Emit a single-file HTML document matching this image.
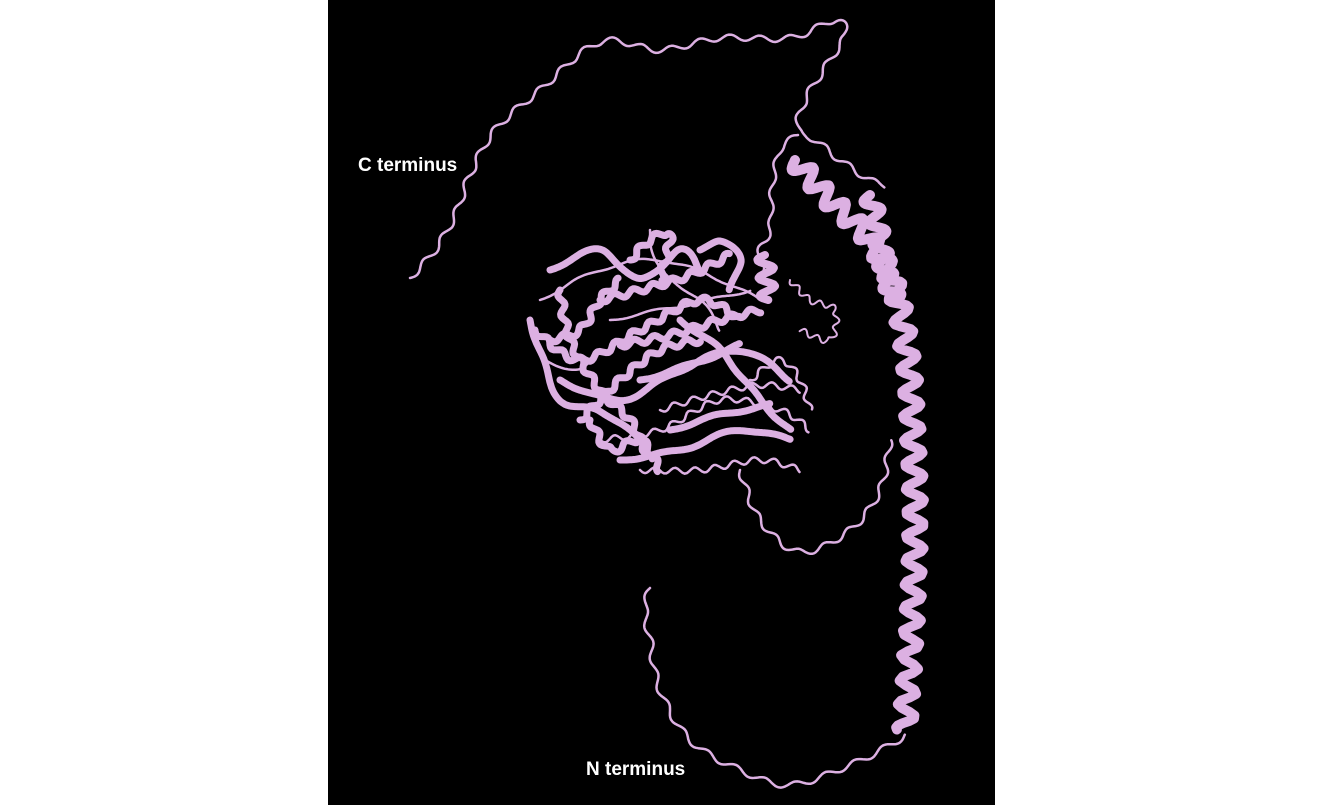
<!DOCTYPE html>
<html><head><meta charset="utf-8"><style>
html,body{margin:0;padding:0;background:#fff;width:1343px;height:805px;overflow:hidden}
#panel{position:absolute;left:328px;top:0;width:667px;height:805px;background:#000}
.lbl{position:absolute;color:#fff;font:bold 19px "Liberation Sans",sans-serif}
svg{position:absolute;left:0;top:0}
</style></head><body>
<div id="panel"></div>
<svg id="s" width="1343" height="805"></svg>
<div class="lbl" style="left:358px;top:155px">C terminus</div>
<div class="lbl" style="left:586px;top:759px">N terminus</div>
<script>
const NS="http://www.w3.org/2000/svg",svg=document.getElementById('s');
const C="#dcb0e2";
function catmull(pts,n){const o=[];for(let i=0;i<pts.length-1;i++){const p0=pts[Math.max(i-1,0)],p1=pts[i],p2=pts[i+1],p3=pts[Math.min(i+2,pts.length-1)];for(let t=0;t<n;t++){const u=t/n,u2=u*u,u3=u2*u;o.push([0.5*(2*p1[0]+(-p0[0]+p2[0])*u+(2*p0[0]-5*p1[0]+4*p2[0]-p3[0])*u2+(-p0[0]+3*p1[0]-3*p2[0]+p3[0])*u3),0.5*(2*p1[1]+(-p0[1]+p2[1])*u+(2*p0[1]-5*p1[1]+4*p2[1]-p3[1])*u2+(-p0[1]+3*p1[1]-3*p2[1]+p3[1])*u3)]);}}o.push(pts[pts.length-1]);return o;}
function wavy(pts,amp,per,w,name){const c=catmull(pts,30);let d="",L=0;for(let i=0;i<c.length;i++){if(i)L+=Math.hypot(c[i][0]-c[i-1][0],c[i][1]-c[i-1][1]);const a=c[Math.max(i-1,0)],b=c[Math.min(i+1,c.length-1)];let dx=b[0]-a[0],dy=b[1]-a[1],l=Math.hypot(dx,dy)||1;const s=amp*Math.sin(L/per*2*Math.PI);d+=(i?"L":"M")+(c[i][0]-dy/l*s).toFixed(1)+","+(c[i][1]+dx/l*s).toFixed(1);}
const p=document.createElementNS(NS,'path');p.setAttribute('d',d);p.setAttribute('fill','none');p.setAttribute('stroke',C);p.setAttribute('stroke-width',w);p.setAttribute('stroke-linejoin','round');p.setAttribute('stroke-linecap','round');


svg.appendChild(p);}
// C-terminal coil
wavy([[410,278],[435,250],[455,215],[470,175],[495,130],[540,90],[600,42],[660,50],[720,38],[790,38],[835,20],[845,35],[830,60],[805,100],[798,130],[815,140],[840,160],[870,180],[885,185]],3,30,2.5,'c-terminal-coil');
wavy([[798,135],[780,150],[772,190],[770,230],[760,250],[765,280]],2.5,30,2.5,'linker-coil');
// helices
wavy([[795,160],[830,200],[870,240],[895,290],[908,360],[913,440],[915,520],[912,620],[905,730]],9,24,10,'long-helix');
wavy([[870,195],[878,230],[885,270],[895,300]],8,22,10,'short-helix');
wavy([[765,255],[768,300]],8,18,8,'small-helix');
// N-terminal coil
wavy([[650,588],[645,610],[650,640],[660,690],[690,740],[740,770],[790,785],[850,765],[890,745],[905,735]],3,32,2.5,'n-terminal-coil');
wavy([[740,470],[760,520],[800,552],[850,530],[880,490],[890,440]],3,28,2.5,'domain-loop');
wavy([[790,280],[810,300],[835,310],[830,340],[800,330]],3,14,2,'loop-right');
// globular domain
const dom=[[[540,300],[600,270],[660,260],[720,280],[760,300]],[[535,330],[580,360],[640,330],[700,300],[740,320]],[[560,380],[620,400],[680,370],[740,350],[790,380]],[[600,440],[660,430],[720,400],[780,410],[810,430]],[[620,460],[680,450],[740,430],[790,440]],[[560,290],[570,340],[600,390],[630,420],[650,460]],[[650,230],[660,270],[700,300],[720,330]],[[580,420],[620,380],[660,350],[700,340]],[[550,270],[600,250],[640,280],[680,250],[700,270]],[[640,470],[700,470],[760,460],[800,470]],[[530,320],[560,400],[600,410],[640,440]],
[[600,300],[640,290],[690,275],[730,255]],[[610,320],[660,310],[710,300],[750,290]],[[620,345],[670,335],[720,320],[760,310]],[[640,380],[690,365],[740,345]],[[660,410],[710,395],[760,385],[800,390]],[[670,430],[720,415],[770,405]],[[550,340],[580,330],[600,300],[620,280]],[[545,360],[580,370],[600,350]],[[590,420],[610,450],[640,440],[660,470]],[[700,250],[720,240],[740,260],[730,290]],[[750,380],[780,360],[800,380],[810,410]],[[680,320],[720,350],[760,400],[790,430]],[[630,260],[650,240],[670,235],[660,280]]];
dom.forEach((pts,i)=>{wavy(pts,i%2?3:1.5,i%2?20:60,i%3==0?2.5:7,'domain-strand-'+i);});
</script>
</body></html>
